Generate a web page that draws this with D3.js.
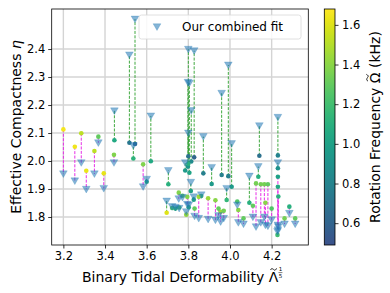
<!DOCTYPE html>
<html><head><meta charset="utf-8">
<script src="https://cdn.jsdelivr.net/npm/d3@7"></script>
<style>body{margin:0;background:#fff}svg{display:block;font-family:"DejaVu Sans",sans-serif}</style>
</head><body><svg id="c" width="390" height="293"></svg>
<script>
// Binary tidal deformability (x), fitted compactness, data compactness, rotation frequency (kHz)
const lambdaT = [3.200,3.255,3.286,3.310,3.349,3.368,3.394,3.443,3.445,3.517,3.544,3.536,3.583,3.600,3.620,
  3.704,3.696,3.722,3.738,3.756,3.754,3.772,3.785,3.800,3.828,3.798,3.805,3.814,3.800,3.812,3.802,3.790,3.795,3.826,
  3.872,3.862,3.850,3.895,3.912,3.930,3.960,3.955,3.984,3.992,4.008,3.970,3.945,3.830,
  4.093,4.141,4.230,4.230,4.230,4.230,4.232,4.228,4.136,4.125,4.148,4.165,4.182,4.170,4.035,4.040,4.065,4.285,4.262,4.313,4.200,4.110];
const etaFit = [1.954,1.929,1.994,1.899,1.954,2.065,1.902,1.994,2.179,2.379,2.507,2.055,1.908,1.935,2.161,
  1.966,1.857,1.837,1.835,1.831,1.865,1.870,1.994,2.399,2.394,2.281,2.278,2.180,2.100,1.924,1.843,1.819,1.845,1.872,
  2.087,1.879,1.795,1.792,1.977,1.789,2.242,1.783,1.902,2.343,2.062,1.795,1.805,1.803,
  1.946,2.126,2.156,1.994,1.771,1.754,1.765,1.748,1.980,1.765,1.780,1.800,1.768,1.771,1.843,1.780,1.775,1.813,1.775,1.775,1.790,1.800];
const etaData = [2.113,2.051,2.099,1.965,2.036,2.087,1.956,2.022,2.074,2.065,2.061,2.009,1.988,1.926,1.999,
  1.917,1.815,1.832,1.830,1.834,1.887,1.876,1.966,2.017,2.013,1.980,1.958,1.998,1.990,1.893,1.835,1.808,1.872,1.862,
  1.956,1.875,1.872,1.867,1.918,1.860,1.950,1.819,1.861,1.946,1.908,1.822,1.830,1.830,
  1.851,2.019,2.020,1.974,1.944,1.908,1.873,1.736,1.944,1.920,1.917,1.917,1.917,1.851,1.855,1.825,1.795,1.837,1.795,1.795,1.830,1.840];
const omega = [1.65,1.64,1.52,1.63,1.52,1.30,1.62,1.38,1.05,0.72,0.62,1.12,1.38,0.95,1.05,
  1.10,1.60,1.25,1.15,1.22,1.38,1.30,0.95,0.70,0.62,0.92,1.02,0.85,1.10,1.00,1.10,1.42,1.38,1.00,
  0.78,1.20,1.45,1.45,0.95,1.40,0.78,1.45,1.15,0.78,0.95,1.35,1.30,1.30,
  1.10,0.68,0.80,0.90,1.00,1.05,1.10,1.20,1.10,1.35,1.35,1.35,1.30,1.40,1.25,1.40,1.30,1.10,1.35,1.30,1.25,1.30];
const xTicks = [3.2,3.4,3.6,3.8,4.0,4.2];
const yTicks = [1.8,1.9,2.0,2.1,2.2,2.3,2.4];
const cTicks = [0.6,0.8,1.0,1.2,1.4,1.6];
const legendLabel = "Our combined fit";
const xLabel = "Binary Tidal Deformability \u039B";
const yLabelMain = "Effective Compactness ";
const yLabelSym = "\u03B7";
const cLabel = "Rotation Frequency \u03A9 (kHz)";

const svg = d3.select("#c");
const L=51.7,R=308.3,T=9,B=245;
const x = d3.scaleLinear().domain([3.144,4.376]).range([L,R]);
const y = d3.scaleLinear().domain([1.7,2.543]).range([B,T]);
const cmin=0.49,cmax=1.68;
const cmap = t => d3.interpolateViridis(0.25 + 0.75*t);
const col = d3.scaleSequential(cmap).domain([cmin,cmax]);

// grid
const g = svg.append("g");
g.selectAll(".gx").data(xTicks).join("line").attr("x1",d=>x(d)).attr("x2",d=>x(d)).attr("y1",T).attr("y2",B)
  .attr("stroke","#d4d4d4").attr("stroke-width",1.4);
g.selectAll(".gy").data(yTicks).join("line").attr("y1",d=>y(d)).attr("y2",d=>y(d)).attr("x1",L).attr("x2",R)
  .attr("stroke","#d4d4d4").attr("stroke-width",1.4);

const idx = d3.range(lambdaT.length);
// connecting lines
svg.append("g").selectAll("line").data(idx).join("line")
  .attr("x1",i=>x(lambdaT[i])).attr("x2",i=>x(lambdaT[i]))
  .attr("y1",i=>y(etaData[i])).attr("y2",i=>y(etaFit[i]))
  .attr("stroke",i=>etaFit[i]>=etaData[i]?"#2ca02c":"#e619e6")
  .attr("stroke-width",1).attr("stroke-dasharray","3,1.4").attr("opacity",0.9);
// data dots
svg.append("g").selectAll("circle").data(idx).join("circle")
  .attr("cx",i=>x(lambdaT[i])).attr("cy",i=>y(etaData[i])).attr("r",2.3)
  .attr("fill",i=>col(omega[i]));
// fit triangles
const tri = d3.symbol().type(d3.symbolTriangle).size(26);
svg.append("g").selectAll("path").data(idx).join("path")
  .attr("d",tri).attr("transform",i=>`translate(${x(lambdaT[i])},${y(etaFit[i])-0.8}) rotate(180)`)
  .attr("fill","#1f77b4").attr("fill-opacity",0.55).attr("stroke","#1f77b4").attr("stroke-opacity",0.4).attr("stroke-width",0.6);

// axes
const xa = svg.append("g").attr("transform",`translate(0,${B})`)
  .call(d3.axisBottom(x).tickValues(xTicks).tickFormat(d3.format(".1f")).tickSize(3.5).tickPadding(3.5));
const ya = svg.append("g").attr("transform",`translate(${L},0)`)
  .call(d3.axisLeft(y).tickValues(yTicks).tickFormat(d3.format(".1f")).tickSize(3.5).tickPadding(3));
[xa,ya].forEach(a=>{a.select(".domain").remove();a.selectAll("text").attr("font-size",11.5).attr("fill","#000").attr("font-family","DejaVu Sans");a.selectAll("line").attr("stroke","#000").attr("stroke-width",0.8);});
svg.append("rect").attr("x",L).attr("y",T).attr("width",R-L).attr("height",B-T).attr("fill","none").attr("stroke","#000").attr("stroke-width",0.8);

// tilde accent helper
function tilde(parent, textSel, ci, fs){
  const n = textSel.node();
  const ext = n.getExtentOfChar(ci);
  const x0 = ext.x + ext.width*0.18, x1 = ext.x + ext.width*0.82;
  const yb = +textSel.attr("y") || 0;
  const yc = yb - fs*0.73 - 2.6;
  const w = x1-x0;
  parent.append("path")
    .attr("d",`M${x0},${yc+0.8} C${x0+w*0.25},${yc-1.6} ${x0+w*0.45},${yc+0.2} ${x0+w*0.5},${yc+0.2} C${x0+w*0.55},${yc+0.2} ${x0+w*0.75},${yc+2.6} ${x1},${yc-0.8}`)
    .attr("fill","none").attr("stroke","#000").attr("stroke-width",0.9);
}

// x label
const xg = svg.append("g");
const xl = xg.append("text").attr("x",82).attr("y",282).attr("font-size",14).text(xLabel);
tilde(xg, xl, xLabel.length-1, 14);
{
  const ext = xl.node().getExtentOfChar(xLabel.length-1);
  const fx = ext.x + ext.width + 2.2;
  const fr = xg.append("text").attr("font-size",5.5).attr("text-anchor","middle");
  fr.append("tspan").attr("x",fx).attr("y",271.3).text("1");
  fr.append("tspan").attr("x",fx).attr("y",277.6).text("5");
  xg.append("line").attr("x1",fx-2).attr("x2",fx+2).attr("y1",272.6).attr("y2",272.6).attr("stroke","#000").attr("stroke-width",0.5);
}
// y label
const yl = svg.append("text").attr("transform",`translate(21,${(T+B)/2}) rotate(-90)`).attr("text-anchor","middle").attr("font-size",14);
yl.append("tspan").text(yLabelMain);
yl.append("tspan").attr("font-style","italic").text(yLabelSym);

// legend
const lg = svg.append("g");
lg.append("rect").attr("x",139).attr("y",15).attr("width",162).attr("height",24).attr("rx",2.5)
  .attr("fill","#fff").attr("fill-opacity",0.85).attr("stroke","#d8d8d8").attr("stroke-width",0.8);
lg.append("path").attr("d",tri).attr("transform","translate(157,26) rotate(180)")
  .attr("fill","#1f77b4").attr("fill-opacity",0.55).attr("stroke","#1f77b4").attr("stroke-opacity",0.4).attr("stroke-width",0.6);
lg.append("text").attr("x",182).attr("y",31).attr("font-size",12).text(legendLabel);

// colorbar
const cbx=324.3,cbw=10.7;
const defs=svg.append("defs");
const grad=defs.append("linearGradient").attr("id","vg").attr("x1",0).attr("x2",0).attr("y1",1).attr("y2",0);
d3.range(0,1.0001,0.05).forEach(t=>grad.append("stop").attr("offset",t).attr("stop-color",cmap(t)));
svg.append("rect").attr("x",cbx).attr("y",T).attr("width",cbw).attr("height",B-T).attr("fill","url(#vg)")
  .attr("stroke","#000").attr("stroke-width",0.8);
const cy = d3.scaleLinear().domain([cmin,cmax]).range([B,T]);
const ca = svg.append("g").attr("transform",`translate(${cbx+cbw},0)`)
  .call(d3.axisRight(cy).tickValues(cTicks).tickFormat(d3.format(".1f")).tickSize(3.5).tickPadding(3.5));
ca.select(".domain").remove();
ca.selectAll("text").attr("font-size",11.5).attr("fill","#000").attr("font-family","DejaVu Sans");
ca.selectAll("line").attr("stroke","#000").attr("stroke-width",0.8);
const cg = svg.append("g").attr("transform",`translate(380,${(T+B)/2}) rotate(-90)`);
const cl = cg.append("text").attr("x",0).attr("y",0).attr("text-anchor","middle").attr("font-size",14).text(cLabel);
tilde(cg, cl, cLabel.indexOf("\u03A9"), 14);
</script></body></html>
